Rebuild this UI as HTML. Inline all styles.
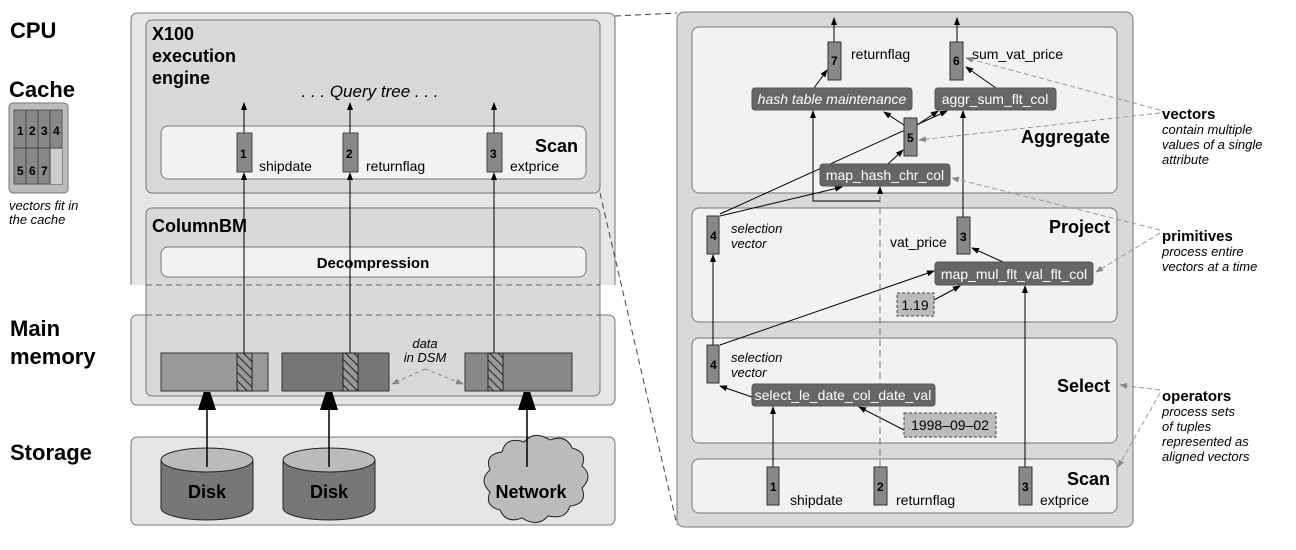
<!DOCTYPE html>
<html><head><meta charset="utf-8"><style>
body{margin:0;background:#fff}
svg{display:block}
text{font-family:"Liberation Sans",sans-serif}
.b{font-weight:bold}
.i{font-style:italic}
.vn{font-family:"Liberation Mono",monospace;font-weight:bold;font-size:12px}
</style></head><body>
<svg width="1296" height="550" viewBox="0 0 1296 550" xmlns="http://www.w3.org/2000/svg">
<defs>
<marker id="a" markerWidth="8" markerHeight="8" refX="7" refY="4" orient="auto" markerUnits="userSpaceOnUse"><path d="M0,1 L8,4 L0,7z" fill="#000"/></marker>
<marker id="g" markerWidth="8" markerHeight="8" refX="7" refY="4" orient="auto" markerUnits="userSpaceOnUse"><path d="M0,1 L8,4 L0,7z" fill="#888"/></marker>
<marker id="big" markerWidth="18" markerHeight="28" refX="17" refY="9" orient="auto" markerUnits="userSpaceOnUse"><path d="M0,0 L28,9 L0,18z" fill="#000"/></marker>
<pattern id="h" width="6" height="6" patternUnits="userSpaceOnUse" patternTransform="rotate(-45)"><rect width="6" height="6" fill="#999"/><line x1="0" y1="0" x2="0" y2="6" stroke="#222" stroke-width="2"/></pattern>
</defs>

<!-- left labels -->
<text x="10" y="38" class="b" font-size="22">CPU</text>
<text x="9" y="103" class="b" font-size="22" dy="-6">Cache</text>
<rect x="9" y="103" width="59" height="90" rx="4" fill="#bbb" stroke="#777"/>
<rect x="14" y="110" width="48" height="74" fill="#888" stroke="#555"/>
<rect x="50" y="148" width="12" height="36" fill="#ccc"/>
<g stroke="#444" stroke-width="1"><line x1="26" y1="110" x2="26" y2="184"/><line x1="38" y1="110" x2="38" y2="184"/><line x1="50" y1="110" x2="50" y2="184"/><line x1="14" y1="148" x2="62" y2="148"/></g>
<g class="vn"><text x="17" y="135">1</text><text x="29" y="135">2</text><text x="41" y="135">3</text><text x="53" y="135">4</text><text x="17" y="175">5</text><text x="29" y="175">6</text><text x="41" y="175">7</text></g>
<text x="9" y="210" class="i" font-size="13">vectors fit in</text>
<text x="9" y="224" class="i" font-size="13">the cache</text>
<text x="10" y="336" class="b" font-size="22">Main</text>
<text x="10" y="364" class="b" font-size="22">memory</text>
<text x="10" y="460" class="b" font-size="22">Storage</text>

<!-- left boxes -->
<path d="M131,285 V19 a6,6 0 0 1 6,-6 H609 a6,6 0 0 1 6,6 V285" fill="#e6e6e6" stroke="#777"/>
<rect x="131" y="315" width="484" height="90" rx="6" fill="#e6e6e6" stroke="#777"/>
<rect x="146" y="208" width="454" height="188" rx="6" fill="#d9d9d9" stroke="#777"/>
<line x1="146" y1="285" x2="600" y2="285" stroke="#666" stroke-dasharray="6,4"/>
<line x1="146" y1="315" x2="600" y2="315" stroke="#666" stroke-dasharray="6,4"/>
<rect x="146" y="20" width="454" height="173" rx="6" fill="#d9d9d9" stroke="#777"/>
<rect x="161" y="126" width="425" height="53" rx="7" fill="#f2f2f2" stroke="#777"/>
<rect x="161" y="247" width="425" height="30" rx="7" fill="#f2f2f2" stroke="#777"/>
<text x="152" y="40" class="b" font-size="18">X100</text>
<text x="152" y="62" class="b" font-size="18">execution</text>
<text x="152" y="84" class="b" font-size="18">engine</text>
<text x="370" y="97" class="i" font-size="17" text-anchor="middle">. . . Query tree . . .</text>
<text x="578" y="152" class="b" font-size="18" text-anchor="end">Scan</text>
<text x="152" y="232" class="b" font-size="18">ColumnBM</text>
<text x="373" y="268" class="b" font-size="15" text-anchor="middle">Decompression</text>

<g stroke="#000" stroke-width="1" fill="none">
<line x1="244" y1="353" x2="244" y2="173" marker-end="url(#a)"/>
<line x1="350" y1="353" x2="350" y2="173" marker-end="url(#a)"/>
<line x1="494" y1="353" x2="494" y2="173" marker-end="url(#a)"/>
<line x1="244" y1="133" x2="244" y2="103" marker-end="url(#a)"/>
<line x1="350" y1="133" x2="350" y2="103" marker-end="url(#a)"/>
<line x1="494" y1="133" x2="494" y2="103" marker-end="url(#a)"/>
</g>
<g fill="#888" stroke="#444"><rect x="237" y="133" width="15" height="39"/><rect x="343" y="133" width="15" height="39"/><rect x="487" y="133" width="15" height="39"/></g>
<g class="vn"><text x="240" y="158">1</text><text x="346" y="158">2</text><text x="490" y="158">3</text></g>
<g font-size="14"><text x="259" y="171">shipdate</text><text x="366" y="171">returnflag</text><text x="510" y="171">extprice</text></g>

<!-- memory bars -->
<rect x="161" y="353" width="107" height="38" fill="#999" stroke="#333"/>
<rect x="237" y="353" width="15" height="38" fill="url(#h)" stroke="#222"/>
<rect x="282" y="353" width="107" height="38" fill="#777" stroke="#333"/>
<rect x="343" y="353" width="15" height="38" fill="url(#h)" stroke="#222"/>
<rect x="465" y="353" width="107" height="38" fill="#888" stroke="#333"/>
<rect x="488" y="353" width="15" height="38" fill="url(#h)" stroke="#222"/>
<text x="425" y="348" class="i" font-size="13" text-anchor="middle">data</text>
<text x="425" y="362" class="i" font-size="13" text-anchor="middle">in DSM</text>
<g stroke="#888" stroke-dasharray="4,3" fill="none"><line x1="425" y1="369" x2="392" y2="384" marker-end="url(#g)"/><line x1="425" y1="369" x2="463" y2="384" marker-end="url(#g)"/></g>

<!-- storage -->
<rect x="131" y="437" width="484" height="88" rx="6" fill="#e6e6e6" stroke="#777"/>
<g stroke="#222">
<path d="M161,460 V508 a46,12 0 0 0 92,0 V460" fill="#777"/><ellipse cx="207" cy="460" rx="46" ry="12" fill="#bbb"/>
<path d="M283,460 V508 a46,12 0 0 0 92,0 V460" fill="#777"/><ellipse cx="329" cy="460" rx="46" ry="12" fill="#bbb"/>
<path d="M490,470 q-6,-16 12,-18 q4,-16 22,-10 q10,-12 26,-2 q16,-6 22,8 q16,4 10,18 q12,10 0,22 q6,16 -12,18 q-4,14 -22,10 q-10,12 -26,2 q-16,6 -22,-8 q-16,-4 -10,-18 q-12,-12 0,-22z" fill="#bbb"/>
</g>
<g class="b" font-size="18" text-anchor="middle"><text x="207" y="498">Disk</text><text x="329" y="498">Disk</text><text x="531" y="498">Network</text></g>
<g stroke="#000" stroke-width="1.5"><line x1="207" y1="467" x2="207" y2="393" marker-end="url(#big)"/><line x1="329" y1="467" x2="329" y2="393" marker-end="url(#big)"/><line x1="527" y1="467" x2="527" y2="393" marker-end="url(#big)"/></g>

<!-- connecting dashed lines -->
<g stroke="#444" stroke-dasharray="6,4" fill="none"><line x1="615" y1="16" x2="677" y2="13"/><line x1="600" y1="193" x2="677" y2="525"/></g>

<!-- right outer -->
<rect x="677" y="12" width="456" height="515" rx="7" fill="#d9d9d9" stroke="#777"/>
<rect x="692" y="27" width="425" height="166" rx="7" fill="#f2f2f2" stroke="#777"/>
<rect x="692" y="208" width="425" height="114" rx="7" fill="#f2f2f2" stroke="#777"/>
<rect x="692" y="338" width="425" height="105" rx="7" fill="#f2f2f2" stroke="#777"/>
<rect x="692" y="459" width="425" height="54" rx="7" fill="#f2f2f2" stroke="#777"/>
<g class="b" font-size="18" text-anchor="end"><text x="1110" y="143">Aggregate</text><text x="1110" y="233">Project</text><text x="1110" y="392">Select</text><text x="1110" y="485">Scan</text></g>

<!-- right connectors -->
<g stroke="#000" fill="none">
<line x1="834" y1="42" x2="834" y2="18" marker-end="url(#a)"/>
<line x1="957" y1="42" x2="957" y2="18" marker-end="url(#a)"/>
<line x1="773" y1="467" x2="773" y2="407" marker-end="url(#a)"/>
<polyline points="880,201 813,201 813,111" marker-end="url(#a)"/>
<line x1="1025" y1="467" x2="1025" y2="286" marker-end="url(#a)"/>
<line x1="713" y1="345" x2="713" y2="255" marker-end="url(#a)"/>
<line x1="752" y1="397" x2="720" y2="386" marker-end="url(#a)"/>
<line x1="904" y1="430" x2="859" y2="407" marker-end="url(#a)"/>
<line x1="720" y1="345" x2="934" y2="271" marker-end="url(#a)"/>
<line x1="934" y1="300" x2="960" y2="286" marker-end="url(#a)"/>
<line x1="1003" y1="262" x2="972" y2="248" marker-end="url(#a)"/>
<line x1="963" y1="217" x2="963" y2="111" marker-end="url(#a)"/>
<line x1="720" y1="216" x2="842" y2="187" marker-end="url(#a)"/>
<line x1="720" y1="214" x2="947" y2="111" marker-end="url(#a)"/>
<line x1="888" y1="164" x2="903" y2="150" marker-end="url(#a)"/>
<line x1="904" y1="125" x2="884" y2="112" marker-end="url(#a)"/>
<line x1="917" y1="125" x2="938" y2="111" marker-end="url(#a)"/>
<line x1="814" y1="88" x2="827" y2="70" marker-end="url(#a)"/>
<line x1="996" y1="88" x2="966" y2="67" marker-end="url(#a)"/>
</g>
<line x1="880" y1="467" x2="880" y2="187" stroke="#777" stroke-dasharray="7,4" marker-end="url(#a)"/>

<!-- vectors right -->
<g fill="#888" stroke="#333">
<rect x="828" y="42" width="13" height="38"/><rect x="950" y="42" width="13" height="38"/>
<rect x="904" y="118" width="13" height="38"/>
<rect x="707" y="216" width="12" height="38"/><rect x="957" y="217" width="13" height="37"/>
<rect x="707" y="345" width="12" height="38"/>
<rect x="767" y="467" width="12" height="38"/><rect x="874" y="467" width="13" height="38"/><rect x="1019" y="467" width="13" height="38"/>
</g>
<g class="vn"><text x="831" y="65">7</text><text x="953" y="65">6</text><text x="907" y="142">5</text><text x="710" y="240">4</text><text x="960" y="241">3</text><text x="710" y="369">4</text><text x="770" y="491">1</text><text x="877" y="491">2</text><text x="1022" y="491">3</text></g>
<g font-size="14"><text x="851" y="59">returnflag</text><text x="972" y="59">sum_vat_price</text><text x="890" y="247">vat_price</text>
<text x="790" y="505">shipdate</text><text x="896" y="505">returnflag</text><text x="1040" y="505">extprice</text></g>
<g class="i" font-size="13"><text x="731" y="233">selection</text><text x="731" y="248">vector</text><text x="731" y="362">selection</text><text x="731" y="377">vector</text></g>

<!-- primitive boxes -->
<g fill="#666" stroke="#555">
<rect x="752" y="88" width="160" height="22" rx="3"/><rect x="935" y="88" width="121" height="22" rx="3"/>
<rect x="820" y="164" width="130" height="22" rx="3"/><rect x="935" y="262" width="158" height="23" rx="3"/>
<rect x="752" y="384" width="183" height="22" rx="3"/>
</g>
<g fill="#fff" font-size="14" text-anchor="middle">
<text x="832" y="104" class="i">hash table maintenance</text><text x="995" y="104">aggr_sum_flt_col</text>
<text x="885" y="180">map_hash_chr_col</text><text x="1014" y="279">map_mul_flt_val_flt_col</text>
<text x="843" y="400">select_le_date_col_date_val</text>
</g>
<g fill="#bbb" stroke="#444" stroke-dasharray="3,2"><rect x="897" y="293" width="37" height="23"/><rect x="904" y="413" width="92" height="24"/></g>
<g font-size="14" text-anchor="middle"><text x="915" y="310">1.19</text><text x="950" y="430">1998–09–02</text></g>

<!-- annotations -->
<g stroke="#999" stroke-dasharray="5,3" fill="none">
<line x1="1160" y1="110" x2="966" y2="58" marker-end="url(#g)"/>
<line x1="1160" y1="113" x2="919" y2="140" marker-end="url(#g)"/>
<line x1="1160" y1="230" x2="952" y2="178" marker-end="url(#g)"/>
<line x1="1160" y1="233" x2="1096" y2="272" marker-end="url(#g)"/>
<line x1="1160" y1="390" x2="1120" y2="385" marker-end="url(#g)"/>
<line x1="1160" y1="393" x2="1118" y2="467" marker-end="url(#g)"/>
</g>
<text x="1162" y="119" class="b" font-size="15">vectors</text>
<g class="i" font-size="13"><text x="1162" y="134">contain multiple</text><text x="1162" y="149">values of a single</text><text x="1162" y="164">attribute</text></g>
<text x="1162" y="241" class="b" font-size="15">primitives</text>
<g class="i" font-size="13"><text x="1162" y="256">process entire</text><text x="1162" y="271">vectors at a time</text></g>
<text x="1162" y="401" class="b" font-size="15">operators</text>
<g class="i" font-size="13"><text x="1162" y="416">process sets</text><text x="1162" y="431">of tuples</text><text x="1162" y="446">represented as</text><text x="1162" y="461">aligned vectors</text></g>
</svg>
</body></html>
